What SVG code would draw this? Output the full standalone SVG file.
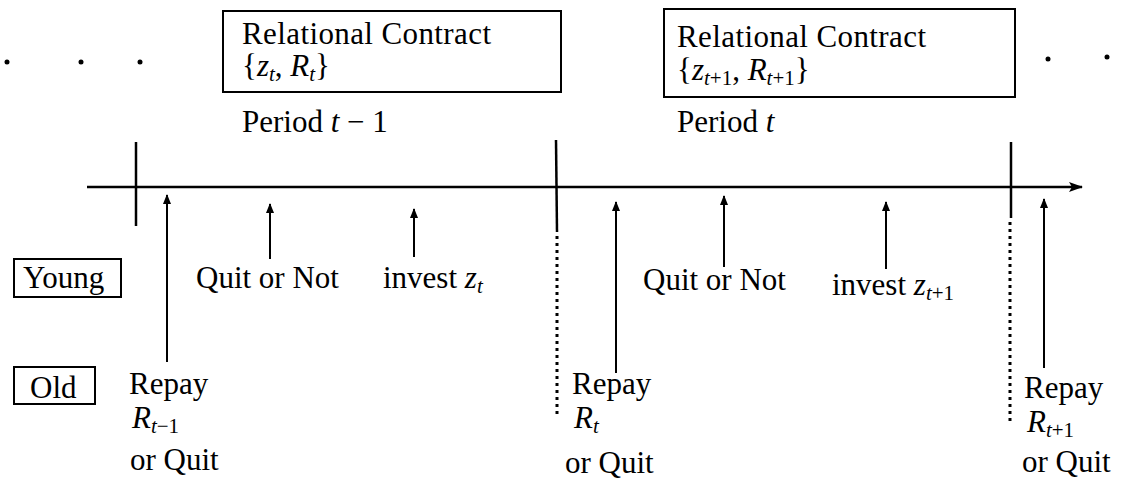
<svg xmlns="http://www.w3.org/2000/svg" width="1135" height="487" viewBox="0 0 1135 487">
<style>
text{font-family:"Liberation Serif","Times New Roman",serif;font-size:31px;fill:#000}
.i{font-style:italic}
.s{font-size:21px}
.box{fill:none;stroke:#000;stroke-width:2}
.tick{stroke:#000;stroke-width:2.5;fill:none}
.dot{stroke:#000;stroke-width:3;fill:none;stroke-dasharray:3 4}
.arr{stroke:#000;stroke-width:2;fill:none;marker-end:url(#ah)}
</style>
<defs>
<marker id="ah" viewBox="0 0 10 8" refX="9" refY="4" markerWidth="10" markerHeight="8" markerUnits="userSpaceOnUse" orient="auto">
<path d="M0,0 L10,4 L0,8 z" fill="#000"/>
</marker>
<marker id="ah2" viewBox="0 0 14 10" refX="13" refY="5" markerWidth="14" markerHeight="10" markerUnits="userSpaceOnUse" orient="auto">
<path d="M0,0 L14,5 L0,10 L3,5 z" fill="#000"/>
</marker>
</defs>
<g id="ellipsis-left">
<circle cx="7" cy="62" r="2.5" fill="#000"/>
<circle cx="81" cy="62" r="2.5" fill="#000"/>
<circle cx="140" cy="62" r="2.5" fill="#000"/>
</g>
<g id="ellipsis-right">
<circle cx="1048" cy="59" r="2.5" fill="#000"/>
<circle cx="1107" cy="57" r="2.5" fill="#000"/>
</g>
<g id="contract1">
<rect class="box" x="223" y="11" width="338" height="81"/>
<text x="242" y="44" textLength="249">Relational Contract</text>
<text x="242" y="76">{<tspan class="i">z</tspan><tspan class="i s" dy="5">t</tspan><tspan dy="-5">, </tspan><tspan class="i">R</tspan><tspan class="i s" dy="5">t</tspan><tspan dy="-5">}</tspan></text>
</g>
<g id="period1"><text x="242" y="132">Period <tspan class="i">t</tspan> − 1</text></g>
<g id="contract2">
<rect class="box" x="664" y="9" width="351" height="88"/>
<text x="677" y="47" textLength="249">Relational Contract</text>
<text x="677" y="80">{<tspan class="i">z</tspan><tspan class="s" dy="5"><tspan class="i">t</tspan>+1</tspan><tspan dy="-5">, </tspan><tspan class="i">R</tspan><tspan class="s" dy="5"><tspan class="i">t</tspan>+1</tspan><tspan dy="-5">}</tspan></text>
</g>
<g id="period2"><text x="677" y="132">Period <tspan class="i">t</tspan></text></g>
<g id="young"><rect class="box" x="14" y="259" width="107" height="38"/><text x="23" y="288">Young</text></g>
<g id="old"><rect class="box" x="14" y="367" width="81" height="37"/><text x="30" y="398">Old</text></g>
<g id="connectors">
<line x1="87" y1="187" x2="1082" y2="187" stroke="#000" stroke-width="2.5" marker-end="url(#ah2)"/>
<line class="tick" x1="136" y1="142" x2="136" y2="226"/>
<line class="tick" x1="556" y1="140" x2="557" y2="232"/>
<line class="dot" x1="557" y1="236" x2="557" y2="414"/>
<line class="tick" x1="1011" y1="142" x2="1011" y2="218"/>
<line class="dot" x1="1010" y1="222" x2="1010" y2="424"/>
<line class="arr" x1="167" y1="362" x2="167" y2="195"/>
<line class="arr" x1="270" y1="259" x2="270" y2="204"/>
<line class="arr" x1="414" y1="257" x2="414" y2="209"/>
<line class="arr" x1="616" y1="373" x2="616" y2="202"/>
<line class="arr" x1="724" y1="267" x2="724" y2="196"/>
<line class="arr" x1="886" y1="269" x2="886" y2="202"/>
<line class="arr" x1="1044" y1="368" x2="1044" y2="199"/>
</g>
<g id="labels">
<text x="196" y="288">Quit or Not</text>
<text x="383" y="288">invest <tspan class="i">z</tspan><tspan class="i s" dy="5">t</tspan></text>
<text x="129" y="394">Repay</text>
<text x="132" y="428"><tspan class="i">R</tspan><tspan class="s" dy="5"><tspan class="i">t</tspan>−1</tspan></text>
<text x="130" y="470">or Quit</text>
<text x="572" y="394">Repay</text>
<text x="574" y="428"><tspan class="i">R</tspan><tspan class="i s" dy="5">t</tspan></text>
<text x="565" y="473">or Quit</text>
<text x="643" y="290">Quit or Not</text>
<text x="832" y="295">invest <tspan class="i">z</tspan><tspan class="s" dy="5"><tspan class="i">t</tspan>+1</tspan></text>
<text x="1024" y="398">Repay</text>
<text x="1027" y="432"><tspan class="i">R</tspan><tspan class="s" dy="5"><tspan class="i">t</tspan>+1</tspan></text>
<text x="1022" y="472">or Quit</text>
</g>
</svg>
